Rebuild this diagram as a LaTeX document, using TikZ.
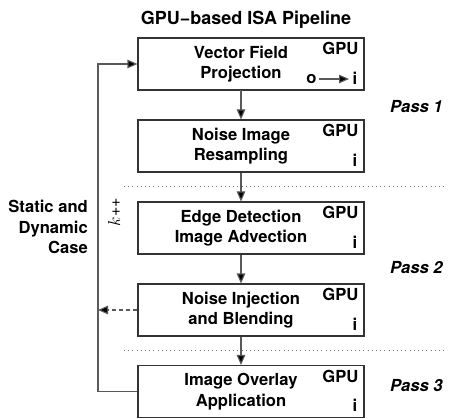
\documentclass[tikz,border=0pt]{standalone}
\usepackage{fontspec}
\setmainfont{TeX Gyre Heros}
\usetikzlibrary{arrows.meta,calc}
\begin{document}
\begin{tikzpicture}[x=1pt,y=-1pt,
  font=\fontsize{16.6}{20.5}\selectfont\bfseries,
  box/.style={draw=black!80,line width=1.1pt,minimum width=226pt,minimum height=52pt,inner sep=0pt},
  txt/.style={align=center,inner sep=0pt},
  lab/.style={inner sep=0pt},
  arr/.style={draw=black!65,line width=1.1pt,-{Triangle[length=10pt,width=8.5pt,fill=black]}},
  sep/.style={draw=black!55,line width=0.8pt,dash pattern=on 1pt off 3.2pt},
  pass/.style={inner sep=0pt,font=\fontsize{16.6}{20.5}\selectfont\bfseries\itshape}
]
\useasboundingbox (0,0) rectangle (449,419);

\node[txt,anchor=base,font=\fontsize{18}{22}\selectfont\bfseries] (title) at (246,25) {GPU−based ISA Pipeline};

\node[box] (b1) at (251,64) {};
\node[box] (b2) at (251,146) {};
\node[box] (b3) at (251,228) {};
\node[box] (b4) at (251,310) {};
\node[box] (b5) at (251,391.5) {};

\node[txt] (t1) at (241,64) {Vector Field\\Projection};
\node[txt] (t2) at (241,146) {Noise Image\\Resampling};
\node[txt] (t3) at (241,228) {Edge Detection\\Image Advection};
\node[txt] (t4) at (241,310) {Noise Injection\\and Blending};
\node[txt] (t5) at (241,391.5) {Image Overlay\\Application};

\foreach \b in {1,...,5}{
  \node[lab,anchor=north east] (g\b) at ($(b\b.north east)+(-6,5)$) {GPU};
  \node[lab,anchor=south east] (i\b) at ($(b\b.south east)+(-7,-6)$) {i};
}
\node[lab,anchor=base] (o1) at (311.5,84) {o};
\coordinate (oa) at (319,79);
\coordinate (ob) at (349,79);
\draw[arr] (oa) -- (ob);

\coordinate (c1) at (241,90);
\draw[arr] (c1) -- (c1 |- b2.north);
\draw[arr] (c1 |- b2.south) -- (c1 |- b3.north);
\draw[arr] (c1 |- b3.south) -- (c1 |- b4.north);
\draw[arr] (c1 |- b4.south) -- (c1 |- b5.north);

\coordinate (lt) at (98,64);
\coordinate (lb) at (98,391.5);
\draw[arr] (b5.west) -- (lb) -- (lt) -- (b1.west);
\draw[arr,dash pattern=on 4pt off 3pt] (b4.west) -- (b4.west -| lt);

\coordinate (s1a) at (124,186);
\coordinate (s1b) at (447,186);
\coordinate (s2a) at (124,350);
\coordinate (s2b) at (447,350);
\draw[sep] (s1a) -- (s1b);
\draw[sep] (s2a) -- (s2b);

\node[pass,anchor=west] (p1) at (390,107) {Pass 1};
\node[pass,anchor=west] (p2) at (390,268) {Pass 2};
\node[pass,anchor=west] (p3) at (390,386) {Pass 3};

\node[txt,align=right,anchor=east] (sd) at (88,227) {Static and\\Dynamic\\Case};
\node[lab,rotate=90,font=\fontsize{16}{20}\selectfont] (k) at (114,212) {$k$++};
\end{tikzpicture}
\end{document}
